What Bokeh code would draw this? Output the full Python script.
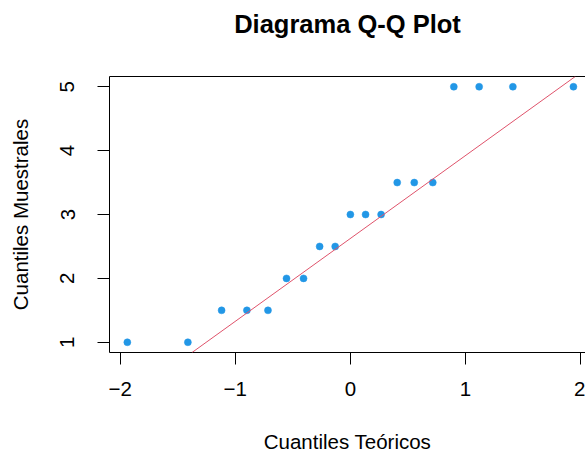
import numpy as np
from bokeh.plotting import figure
from bokeh.models import Range1d, FixedTicker, LinearAxis, Slope
from bokeh.embed import file_html
from bokeh.resources import INLINE

# Normal theoretical quantiles for the 19 ordered observations
teoricos = [-1.938, -1.412, -1.119, -0.899, -0.716, -0.555, -0.407, -0.267, -0.132,
            0.0, 0.132, 0.267, 0.407, 0.555, 0.716, 0.899, 1.119, 1.412, 1.938]
# Sorted sample values
muestrales = [1, 1, 1.5, 1.5, 1.5, 2, 2, 2.5, 2.5, 3, 3, 3, 3.5, 3.5, 3.5, 5, 5, 5, 5]

x_ticks = [-2, -1, 0, 1, 2]
y_ticks = [1, 2, 3, 4, 5]

TITLE = "Diagrama Q-Q Plot"
FONT = "Liberation Sans"

# Reference line through the first and third quartiles
q1_y, q3_y = np.percentile(muestrales, [25, 75])
q1_x, q3_x = -0.6745, 0.6745
slope = (q3_y - q1_y) / (q3_x - q1_x)
intercept = q1_y - slope * q1_x

p = figure(width=585, height=455, output_backend="svg", toolbar_location=None,
           x_range=Range1d(-2.093, 2.043), y_range=Range1d(0.84, 5.16),
           min_border_left=109, min_border_right=0, min_border_top=76,
           min_border_bottom=102)

p.grid.visible = False
p.outline_line_color = None
p.background_fill_color = "white"
p.border_fill_color = "white"

for ax, ticks in ((p.xaxis[0], x_ticks), (p.yaxis[0], y_ticks)):
    ax.ticker = FixedTicker(ticks=ticks)
    ax.major_tick_in = 0
    ax.major_tick_out = 12
    ax.minor_tick_line_color = None
    ax.axis_line_color = "black"
    ax.major_tick_line_color = "black"
    ax.major_label_text_font = FONT
    ax.major_label_text_font_size = "20.5px"
    ax.major_label_text_color = "black"
    ax.axis_label_text_font = FONT
    ax.axis_label_text_font_size = "20.5px"
    ax.axis_label_text_font_style = "normal"
    ax.axis_label_text_color = "black"

p.xaxis[0].axis_label = "Cuantiles Teóricos"
p.xaxis[0].major_label_standoff = 17
p.xaxis[0].axis_label_standoff = 31

p.yaxis[0].axis_label = "Cuantiles Muestrales"
p.yaxis[0].major_label_orientation = "vertical"
p.yaxis[0].major_label_standoff = 23
p.yaxis[0].axis_label_standoff = 26

# Top edge of the box, carrying the chart title
top = LinearAxis(ticker=FixedTicker(ticks=[]), major_label_text_font_size="0px",
                 major_label_standoff=0, major_tick_out=0, major_tick_in=0,
                 major_tick_line_color=None, minor_tick_line_color=None,
                 axis_line_color="black", axis_label=TITLE,
                 axis_label_standoff=39, axis_label_text_font=FONT,
                 axis_label_text_font_size="25.5px",
                 axis_label_text_font_style="bold",
                 axis_label_text_color="black")
p.add_layout(top, "above")

p.add_layout(Slope(gradient=slope, y_intercept=intercept,
                   line_color="#DF536B", line_width=1))

p.scatter(teoricos, muestrales, size=7, fill_color="#2297E6",
          line_color="#2297E6", line_width=0.5)

open("out.html", "w").write(file_html(p, INLINE))
